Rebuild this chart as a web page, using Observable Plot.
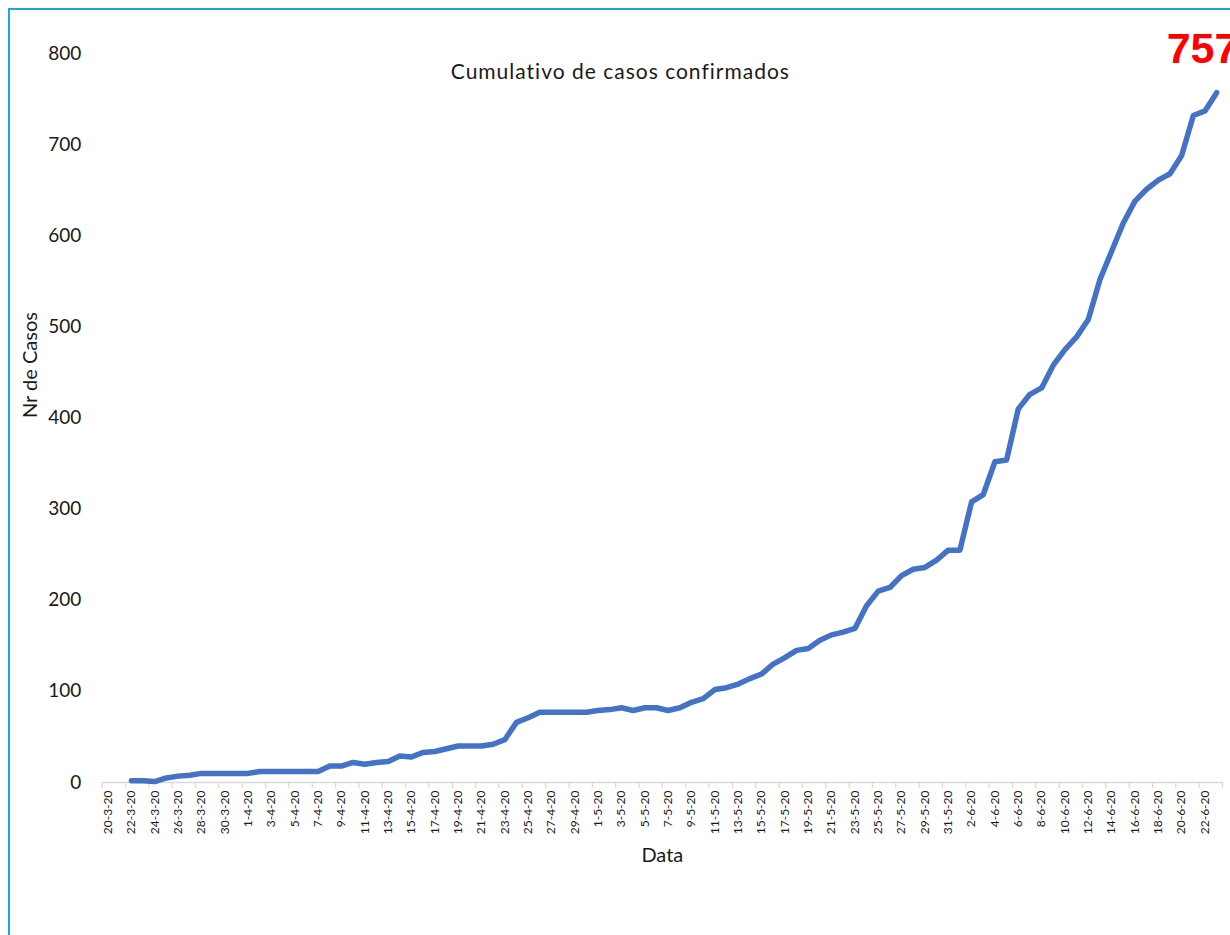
<!DOCTYPE html>
<html>
<head>
<meta charset="utf-8">
<script src="https://cdn.jsdelivr.net/npm/d3@7"></script>
<script src="https://cdn.jsdelivr.net/npm/@observablehq/plot@0.6"></script>
<style>
  html, body { margin: 0; padding: 0; background: #fff; }
  #wrap { position: relative; width: 1230px; height: 935px; overflow: hidden; }
  #border { position: absolute; left: 8px; top: 8px; width: 1240px; height: 940px;
            border-left: 2px solid #1BA7E1; border-top: 2px solid #1BA7E1; pointer-events: none; }
</style>
</head>
<body>
<div id="wrap"><div id="border"></div></div>
<script>
const title = "Cumulativo de casos confirmados";
const yTitle = "Nr de Casos";
const xTitle = "Data";
const lastLabel = "757";

const dates = [
  "20-3-20","21-3-20","22-3-20","23-3-20","24-3-20","25-3-20","26-3-20","27-3-20","28-3-20","29-3-20","30-3-20","31-3-20",
  "1-4-20","2-4-20","3-4-20","4-4-20","5-4-20","6-4-20","7-4-20","8-4-20","9-4-20","10-4-20","11-4-20","12-4-20","13-4-20","14-4-20","15-4-20",
  "16-4-20","17-4-20","18-4-20","19-4-20","20-4-20","21-4-20","22-4-20","23-4-20","24-4-20","25-4-20","26-4-20","27-4-20","28-4-20","29-4-20","30-4-20",
  "1-5-20","2-5-20","3-5-20","4-5-20","5-5-20","6-5-20","7-5-20","8-5-20","9-5-20","10-5-20","11-5-20","12-5-20","13-5-20","14-5-20","15-5-20","16-5-20",
  "17-5-20","18-5-20","19-5-20","20-5-20","21-5-20","22-5-20","23-5-20","24-5-20","25-5-20","26-5-20","27-5-20","28-5-20","29-5-20","30-5-20","31-5-20",
  "1-6-20","2-6-20","3-6-20","4-6-20","5-6-20","6-6-20","7-6-20","8-6-20","9-6-20","10-6-20","11-6-20","12-6-20","13-6-20","14-6-20","15-6-20",
  "16-6-20","17-6-20","18-6-20","19-6-20","20-6-20","21-6-20","22-6-20","23-6-20"
];

// cumulative cases, starting on 22-3-20
const firstDate = "22-3-20";
const cases = [
  2, 2, 1, 5, 7, 8, 10, 10, 10, 10,
  10, 12, 12, 12, 12, 12, 12, 18, 18, 22,
  20, 22, 23, 29, 28, 33, 34, 37, 40, 40,
  40, 42, 47, 66, 71, 77, 77, 77, 77, 77,
  79, 80, 82, 79, 82, 82, 79, 82, 88, 92,
  102, 104, 108, 114, 119, 130, 137, 145, 147, 156,
  162, 165, 169, 194, 210, 214, 227, 234, 236, 244,
  255, 255, 308, 316, 352, 354, 410, 426, 433, 458,
  475, 489, 508, 552, 583, 614, 638, 651, 661, 668,
  688, 732, 737, 757
];

const yTicks = [0, 100, 200, 300, 400, 500, 600, 700, 800];

const start = dates.indexOf(firstDate);
const data = cases.map((v, k) => ({i: start + k, date: dates[start + k], v}));
const labelIdx = dates.map((d, i) => i).filter(i => i % 2 === 0);
const boundaries = d3.range(-0.5, dates.length, 2);
const last = data[data.length - 1];

const font = "Lato, 'Open Sans', sans-serif";

const chart = Plot.plot({
  width: 1230,
  height: 935,
  marginLeft: 101.7,
  marginRight: 8,
  marginTop: 53,
  marginBottom: 153,
  style: {fontFamily: font, background: "transparent", color: "#1a1a1a"},
  x: {type: "linear", domain: [-0.5, dates.length - 0.5]},
  y: {domain: [0, 800]},
  marks: [
    Plot.ruleY([0], {stroke: "#d9d9d9", strokeWidth: 1.5}),
    Plot.axisX(boundaries, {tickSize: 6, tickFormat: () => "", stroke: "#d9d9d9", label: null, strokeWidth: 1.3}),
    Plot.axisX(labelIdx, {tickSize: 0, tickPadding: 8, tickRotate: -90, tickFormat: i => dates[i],
      fontSize: 12, label: null}),
    Plot.axisY(yTicks, {tickSize: 0, tickPadding: 21, fontSize: 19, label: null}),
    Plot.line(data, {x: "i", y: "v", stroke: "#4472C4", strokeWidth: 5.5,
      strokeLinejoin: "round", strokeLinecap: "round"}),
    Plot.text([title], {frameAnchor: "top", lineAnchor: "middle", dx: -42, dy: 19, fontSize: 21,
      fill: "#1a1a1a", style: "letter-spacing: 1px"}),
    Plot.text([xTitle], {frameAnchor: "bottom", lineAnchor: "middle", dy: 73, fontSize: 20, fill: "#1a1a1a"}),
    Plot.text([yTitle], {frameAnchor: "left", lineAnchor: "middle", dx: -72, rotate: -90, fontSize: 20, fill: "#1a1a1a"}),
    Plot.text([last], {x: "i", y: "v", text: () => lastLabel, textAnchor: "start", lineAnchor: "middle",
      dx: -50, dy: -43,
      fontSize: 43, fontWeight: "bold", fill: "#FF0000", fontFamily: "'Liberation Sans', Arial, sans-serif"})
  ]
});
chart.querySelectorAll("text").forEach(t => {
  if (t.textContent === title) t.setAttribute("letter-spacing", "1px");
});
document.getElementById("wrap").prepend(chart);
</script>
</body>
</html>
